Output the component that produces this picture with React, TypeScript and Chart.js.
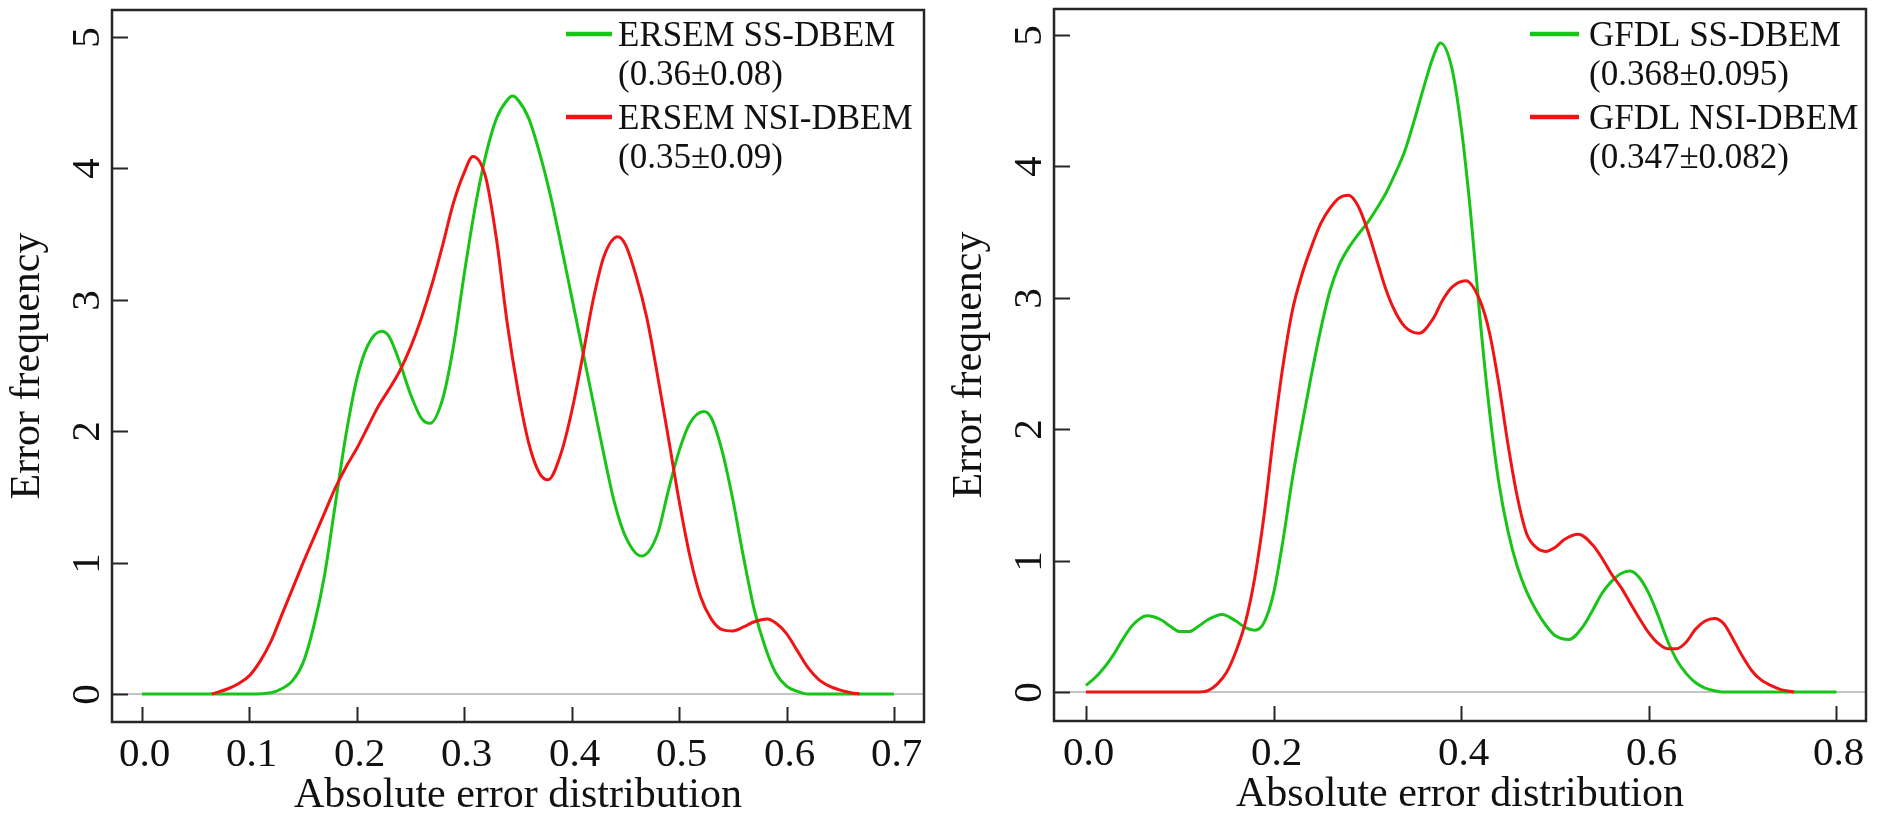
import React, { useEffect, useRef } from "react";
import { Chart, registerables } from "chart.js";

Chart.register(...registerables);

// ---------- Data ----------
const ersemSsX = [0, 0.05, 0.1, 0.12, 0.13, 0.14, 0.15, 0.16, 0.17, 0.18, 0.19, 0.2, 0.21, 0.223, 0.23, 0.24, 0.25, 0.26, 0.268, 0.28, 0.29, 0.3, 0.31, 0.32, 0.33, 0.34, 0.345, 0.35, 0.36, 0.37, 0.38, 0.39, 0.4, 0.41, 0.42, 0.43, 0.44, 0.45, 0.465, 0.48, 0.49, 0.5, 0.51, 0.523, 0.53, 0.54, 0.55, 0.56, 0.57, 0.58, 0.59, 0.6, 0.61, 0.62, 0.65, 0.7];
const ersemSsY = [0, 0, 0, 0.01, 0.04, 0.1, 0.24, 0.52, 0.91, 1.45, 1.98, 2.4, 2.65, 2.76, 2.72, 2.52, 2.28, 2.1, 2.06, 2.25, 2.65, 3.2, 3.7, 4.1, 4.38, 4.52, 4.55, 4.52, 4.38, 4.12, 3.8, 3.42, 3.02, 2.62, 2.22, 1.82, 1.45, 1.2, 1.05, 1.22, 1.55, 1.85, 2.06, 2.15, 2.1, 1.85, 1.48, 1.04, 0.64, 0.36, 0.16, 0.06, 0.02, 0, 0, 0];

const ersemNsiX = [0.065, 0.08, 0.09, 0.1, 0.11, 0.12, 0.13, 0.14, 0.15, 0.16, 0.17, 0.18, 0.19, 0.2, 0.21, 0.22, 0.23, 0.24, 0.25, 0.26, 0.27, 0.28, 0.29, 0.3, 0.308, 0.32, 0.33, 0.34, 0.35, 0.36, 0.37, 0.378, 0.39, 0.4, 0.41, 0.42, 0.43, 0.443, 0.45, 0.46, 0.47, 0.48, 0.49, 0.5, 0.51, 0.52, 0.53, 0.54, 0.55, 0.56, 0.57, 0.582, 0.59, 0.6, 0.61, 0.62, 0.63, 0.64, 0.65, 0.66, 0.668];
const ersemNsiY = [0, 0.04, 0.08, 0.14, 0.25, 0.4, 0.6, 0.8, 1.0, 1.19, 1.38, 1.57, 1.73, 1.87, 2.03, 2.19, 2.32, 2.46, 2.64, 2.86, 3.12, 3.42, 3.74, 3.97, 4.09, 3.93, 3.46, 2.82, 2.31, 1.91, 1.68, 1.63, 1.83, 2.15, 2.56, 3.0, 3.33, 3.48, 3.42, 3.18, 2.86, 2.42, 1.95, 1.47, 1.05, 0.74, 0.57, 0.49, 0.48, 0.51, 0.55, 0.57, 0.54, 0.46, 0.33, 0.2, 0.11, 0.06, 0.03, 0.01, 0];

const gfdlSsX = [0, 0.01, 0.02, 0.03, 0.04, 0.05, 0.065, 0.08, 0.09, 0.1, 0.11, 0.12, 0.13, 0.145, 0.16, 0.17, 0.18, 0.19, 0.2, 0.21, 0.22, 0.23, 0.24, 0.25, 0.26, 0.27, 0.28, 0.29, 0.3, 0.31, 0.32, 0.33, 0.34, 0.35, 0.36, 0.37, 0.378, 0.39, 0.4, 0.41, 0.42, 0.43, 0.44, 0.45, 0.46, 0.47, 0.48, 0.49, 0.5, 0.515, 0.53, 0.54, 0.55, 0.56, 0.57, 0.58, 0.59, 0.6, 0.61, 0.62, 0.63, 0.64, 0.65, 0.66, 0.67, 0.68, 0.8];
const gfdlSsY = [0.05, 0.11, 0.19, 0.29, 0.41, 0.51, 0.58, 0.55, 0.5, 0.46, 0.46, 0.5, 0.55, 0.59, 0.54, 0.49, 0.47, 0.53, 0.75, 1.15, 1.62, 2.02, 2.4, 2.75, 3.05, 3.25, 3.38, 3.48, 3.57, 3.68, 3.8, 3.95, 4.12, 4.35, 4.6, 4.83, 4.94, 4.75, 4.3, 3.65, 2.85, 2.15, 1.6, 1.22, 0.95, 0.76, 0.62, 0.51, 0.43, 0.4, 0.5, 0.62, 0.75, 0.84, 0.9, 0.92, 0.87, 0.75, 0.58, 0.39, 0.24, 0.14, 0.07, 0.03, 0.01, 0, 0];

const gfdlNsiX = [0, 0.12, 0.13, 0.14, 0.15, 0.16, 0.17, 0.18, 0.19, 0.2, 0.21, 0.22, 0.23, 0.24, 0.25, 0.26, 0.27, 0.28, 0.29, 0.3, 0.31, 0.32, 0.33, 0.34, 0.355, 0.37, 0.38, 0.39, 0.405, 0.42, 0.43, 0.44, 0.45, 0.46, 0.47, 0.48, 0.49, 0.5, 0.51, 0.525, 0.54, 0.55, 0.56, 0.57, 0.58, 0.59, 0.6, 0.61, 0.62, 0.63, 0.64, 0.65, 0.66, 0.67, 0.68, 0.69, 0.7, 0.71, 0.72, 0.73, 0.74, 0.755];
const gfdlNsiY = [0, 0, 0.01, 0.06, 0.15, 0.31, 0.53, 0.87, 1.35, 1.95, 2.48, 2.9, 3.17, 3.38, 3.56, 3.68, 3.76, 3.78, 3.7, 3.52, 3.29, 3.06, 2.89, 2.78, 2.73, 2.84, 2.98, 3.08, 3.13, 2.98, 2.74, 2.35, 1.88, 1.48, 1.2, 1.1, 1.07, 1.1, 1.16, 1.2, 1.12, 1.02, 0.9, 0.8, 0.68, 0.56, 0.45, 0.37, 0.33, 0.33, 0.38, 0.48, 0.54, 0.56, 0.52, 0.4, 0.27, 0.16, 0.09, 0.05, 0.02, 0];

const leftXTicks = [0, 0.1, 0.2, 0.3, 0.4, 0.5, 0.6, 0.7];
const leftXTickLabels = ["0.0", "0.1", "0.2", "0.3", "0.4", "0.5", "0.6", "0.7"];
const rightXTicks = [0, 0.2, 0.4, 0.6, 0.8];
const rightXTickLabels = ["0.0", "0.2", "0.4", "0.6", "0.8"];
const yTicks = [0, 1, 2, 3, 4, 5];
const yTickLabels = ["0", "1", "2", "3", "4", "5"];

const leftLegendLabels = ["ERSEM SS-DBEM", "(0.36±0.08)", "ERSEM NSI-DBEM", "(0.35±0.09)"];
const rightLegendLabels = ["GFDL SS-DBEM", "(0.368±0.095)", "GFDL NSI-DBEM", "(0.347±0.082)"];

const xTitle = "Absolute error distribution";
const yTitle = "Error frequency";

const GREEN = "#19c419";
const RED = "#f01414";
const FONT = '"Liberation Serif", "Times New Roman", serif';

type Cfg = {
  width: number;
  left: number;
  xMin: number;
  xMax: number;
  yMin: number;
  yMax: number;
  yAxisW: number;
  xAxisH: number;
  padTop: number;
  padRight: number;
  xTicks: number[];
  xTickLabels: string[];
  legend: string[];
  legendTextX: number;
  legendLineX0: number;
  legendLineX1: number;
  ssX: number[];
  ssY: number[];
  nsiX: number[];
  nsiY: number[];
};

const leftCfg: Cfg = {
  width: 940,
  left: 0,
  xMin: -0.028,
  xMax: 0.728,
  yMin: -0.213,
  yMax: 5.205,
  yAxisW: 112,
  xAxisH: 96,
  padTop: 10,
  padRight: 16,
  xTicks: leftXTicks,
  xTickLabels: leftXTickLabels,
  legend: leftLegendLabels,
  legendTextX: 618,
  legendLineX0: 566,
  legendLineX1: 612,
  ssX: ersemSsX,
  ssY: ersemSsY,
  nsiX: ersemNsiX,
  nsiY: ersemNsiY,
};

const rightCfg: Cfg = {
  width: 941,
  left: 940,
  xMin: -0.034,
  xMax: 0.8315,
  yMin: -0.2207,
  yMax: 5.198,
  yAxisW: 114,
  xAxisH: 97,
  padTop: 9,
  padRight: 15,
  xTicks: rightXTicks,
  xTickLabels: rightXTickLabels,
  legend: rightLegendLabels,
  legendTextX: 649,
  legendLineX0: 590,
  legendLineX1: 639,
  ssX: gfdlSsX,
  ssY: gfdlSsY,
  nsiX: gfdlNsiX,
  nsiY: gfdlNsiY,
};

function makePlugin(cfg: Cfg) {
  return {
    id: "rStyleAxes",
    beforeDatasetsDraw(chart: any) {
      const { ctx, chartArea: a, scales } = chart;
      const y0 = scales.y.getPixelForValue(0);
      ctx.save();
      ctx.strokeStyle = "#c4c4c4";
      ctx.lineWidth = 2;
      ctx.beginPath();
      ctx.moveTo(a.left, y0);
      ctx.lineTo(a.right, y0);
      ctx.stroke();
      ctx.restore();
    },
    afterDatasetsDraw(chart: any) {
      const { ctx, chartArea: a, scales } = chart;
      const xs = scales.x;
      const ys = scales.y;
      ctx.save();
      ctx.strokeStyle = "#262626";
      ctx.fillStyle = "#111";
      ctx.lineWidth = 2.5;
      ctx.strokeRect(a.left, a.top, a.right - a.left, a.bottom - a.top);

      // x ticks (inward) and labels
      ctx.lineWidth = 2;
      ctx.font = `41px ${FONT}`;
      ctx.textAlign = "center";
      ctx.textBaseline = "alphabetic";
      cfg.xTicks.forEach((v, i) => {
        const px = Math.round(xs.getPixelForValue(v)) + 0.5;
        ctx.beginPath();
        ctx.moveTo(px, a.bottom);
        ctx.lineTo(px, a.bottom - 15);
        ctx.stroke();
        ctx.fillText(cfg.xTickLabels[i], px + 2, a.bottom + 44);
      });

      // y ticks (inward) and rotated labels
      yTicks.forEach((v, i) => {
        const py = Math.round(ys.getPixelForValue(v)) + 0.5;
        ctx.beginPath();
        ctx.moveTo(a.left, py);
        ctx.lineTo(a.left + 16, py);
        ctx.stroke();
        ctx.save();
        ctx.translate(a.left - 27, py);
        ctx.rotate(-Math.PI / 2);
        ctx.fillText(yTickLabels[i], 0, 41 * 0.34);
        ctx.restore();
      });

      // axis titles
      ctx.font = `42px ${FONT}`;
      ctx.fillText(xTitle, (a.left + a.right) / 2, a.bottom + 85);
      ctx.save();
      ctx.translate(a.left - 73, (a.top + a.bottom) / 2);
      ctx.rotate(-Math.PI / 2);
      ctx.fillText(yTitle, 0, 0);
      ctx.restore();

      // legend
      ctx.font = `35px ${FONT}`;
      ctx.textAlign = "left";
      const baselines = [46, 85, 129, 168];
      cfg.legend.forEach((t, i) => {
        ctx.fillText(t, cfg.legendTextX, baselines[i]);
      });
      ctx.lineWidth = 4.5;
      ctx.strokeStyle = GREEN;
      ctx.beginPath();
      ctx.moveTo(cfg.legendLineX0, 34);
      ctx.lineTo(cfg.legendLineX1, 34);
      ctx.stroke();
      ctx.strokeStyle = RED;
      ctx.beginPath();
      ctx.moveTo(cfg.legendLineX0, 117);
      ctx.lineTo(cfg.legendLineX1, 117);
      ctx.stroke();
      ctx.restore();
    },
  };
}

function DensityChart({ cfg }: { cfg: Cfg }) {
  const ref = useRef<HTMLCanvasElement | null>(null);
  useEffect(() => {
    if (!ref.current) return;
    const chart = new Chart(ref.current, {
      type: "line",
      data: {
        datasets: [
          {
            label: cfg.legend[2],
            data: cfg.nsiX.map((x, i) => ({ x, y: cfg.nsiY[i] })),
            borderColor: RED,
            borderWidth: 3,
            pointRadius: 0,
            fill: false,
            cubicInterpolationMode: "monotone",
          },
          {
            label: cfg.legend[0],
            data: cfg.ssX.map((x, i) => ({ x, y: cfg.ssY[i] })),
            borderColor: GREEN,
            borderWidth: 3,
            pointRadius: 0,
            fill: false,
            cubicInterpolationMode: "monotone",
          },
        ],
      },
      options: {
        responsive: false,
        animation: false,
        devicePixelRatio: 1,
        layout: { padding: { top: cfg.padTop, right: cfg.padRight, left: 0, bottom: 0 } },
        plugins: { legend: { display: false }, tooltip: { enabled: false } },
        scales: {
          x: {
            type: "linear",
            min: cfg.xMin,
            max: cfg.xMax,
            grid: { display: false },
            border: { display: false },
            ticks: { display: false },
            afterFit: (s: any) => {
              s.height = cfg.xAxisH;
            },
          },
          y: {
            type: "linear",
            min: cfg.yMin,
            max: cfg.yMax,
            grid: { display: false },
            border: { display: false },
            ticks: { display: false },
            afterFit: (s: any) => {
              s.width = cfg.yAxisW;
            },
          },
        },
      } as any,
      plugins: [makePlugin(cfg)],
    });
    return () => chart.destroy();
  }, [cfg]);
  return (
    <canvas
      ref={ref}
      width={cfg.width}
      height={818}
      style={{ position: "absolute", left: cfg.left, top: 0, width: cfg.width, height: 818, display: "block" }}
    />
  );
}

export default function App() {
  return (
    <div style={{ position: "absolute", left: 0, top: 0, width: 1881, height: 818, background: "#fff" }}>
      <DensityChart cfg={leftCfg} />
      <DensityChart cfg={rightCfg} />
    </div>
  );
}
